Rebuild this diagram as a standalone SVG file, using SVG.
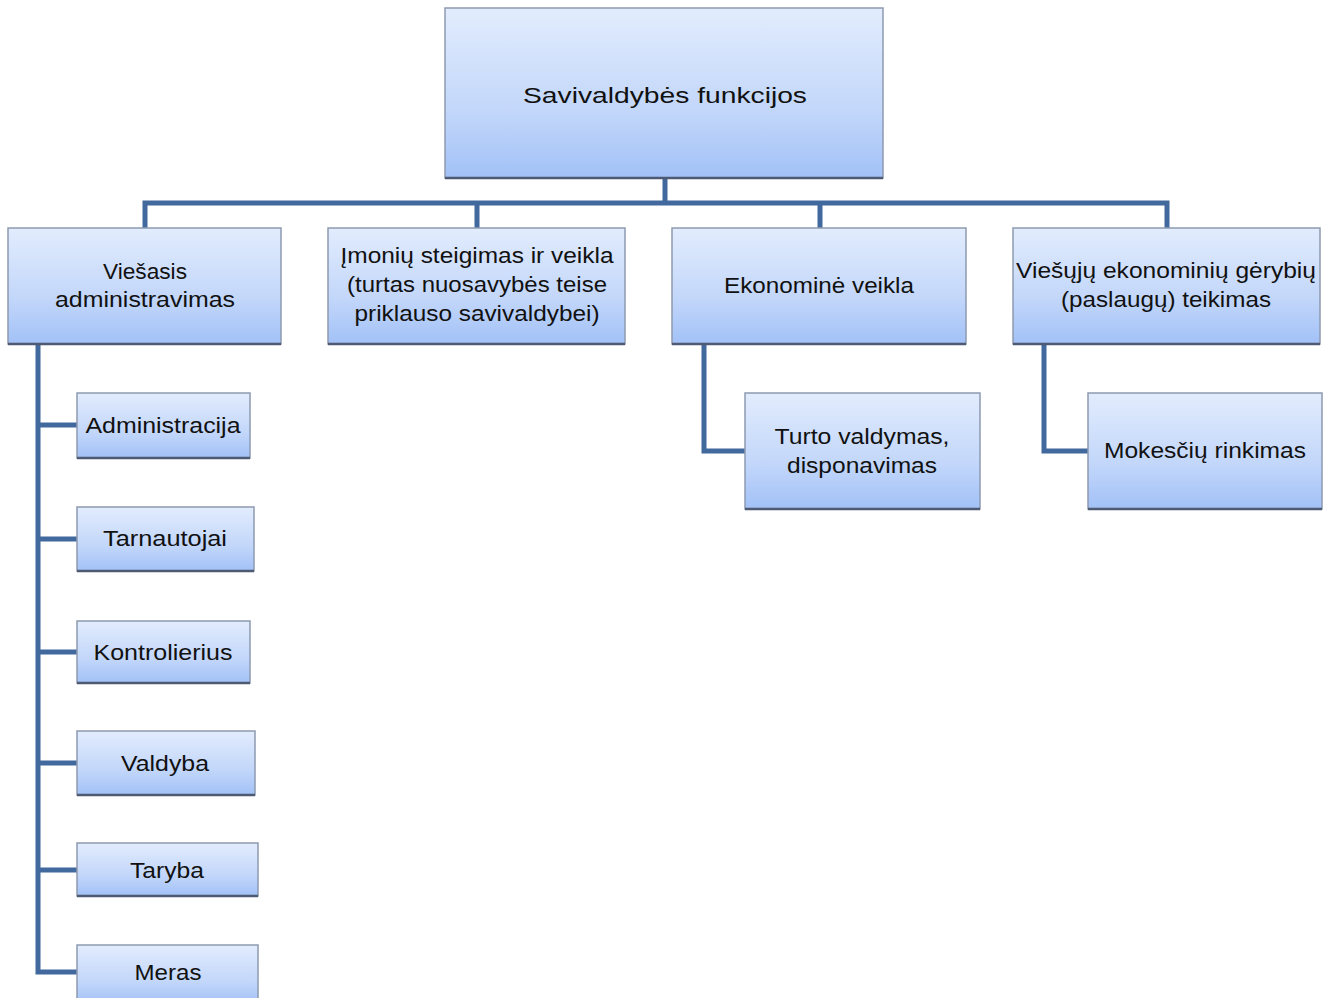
<svg xmlns="http://www.w3.org/2000/svg" width="1334" height="998" viewBox="0 0 1334 998">
<defs>
<linearGradient id="g" x1="0" y1="0" x2="0" y2="1">
<stop offset="0" stop-color="#e2ecfd"/>
<stop offset="0.6" stop-color="#c3d7fa"/>
<stop offset="1" stop-color="#a2c1f7"/>
</linearGradient>
</defs>
<style>
.box{fill:url(#g);stroke:#8d9ab0;stroke-width:1.5}
.sh{stroke:#4d5a72;stroke-width:2.5}
.t{font-family:"Liberation Sans",Arial,sans-serif;font-size:22px;fill:#111;text-anchor:middle}
.c{fill:none;stroke:#41699d;stroke-width:5;stroke-linejoin:miter}
</style>
<rect width="1334" height="998" fill="#fff"/>
<g id="connectors">
<path class="c" d="M665 178V203M145 228V203H1167V228M477 203V228M820 203V228"/>
<path class="c" d="M38 344V972H77M38 425H77M38 539H77M38 652H77M38 763H77M38 870H77"/>
<path class="c" d="M704 344V451H745"/>
<path class="c" d="M1044 344V451H1088"/>
</g>
<g id="root">
<rect class="box" x="445" y="8" width="438" height="170"/>
<line class="sh" x1="445" y1="178" x2="883" y2="178"/>
<text class="t" x="665" y="103" font-size="28" textLength="284" lengthAdjust="spacingAndGlyphs">Savivaldybės funkcijos</text>
</g>
<g id="n1">
<rect class="box" x="8" y="228" width="273" height="116"/>
<line class="sh" x1="8" y1="344" x2="281" y2="344"/>
<text class="t" x="145" y="279" textLength="84" lengthAdjust="spacingAndGlyphs">Viešasis</text>
<text class="t" x="145" y="307" textLength="180" lengthAdjust="spacingAndGlyphs">administravimas</text>
</g>
<g id="n2">
<rect class="box" x="328" y="228" width="297" height="116"/>
<line class="sh" x1="328" y1="344" x2="625" y2="344"/>
<text class="t" x="477" y="263" textLength="273" lengthAdjust="spacingAndGlyphs">Įmonių steigimas ir veikla</text>
<text class="t" x="477" y="292" textLength="260" lengthAdjust="spacingAndGlyphs">(turtas nuosavybės teise</text>
<text class="t" x="477" y="321" textLength="245" lengthAdjust="spacingAndGlyphs">priklauso savivaldybei)</text>
</g>
<g id="n3">
<rect class="box" x="672" y="228" width="294" height="116"/>
<line class="sh" x1="672" y1="344" x2="966" y2="344"/>
<text class="t" x="819" y="293" textLength="190" lengthAdjust="spacingAndGlyphs">Ekonominė veikla</text>
</g>
<g id="n4">
<rect class="box" x="1013" y="228" width="307" height="116"/>
<line class="sh" x1="1013" y1="344" x2="1320" y2="344"/>
<text class="t" x="1166" y="278" textLength="300" lengthAdjust="spacingAndGlyphs">Viešųjų ekonominių gėrybių</text>
<text class="t" x="1166" y="307" textLength="210" lengthAdjust="spacingAndGlyphs">(paslaugų) teikimas</text>
</g>
<g id="n1a">
<rect class="box" x="77" y="393" width="173" height="65"/>
<line class="sh" x1="77" y1="458" x2="250" y2="458"/>
<text class="t" x="163" y="433" textLength="155" lengthAdjust="spacingAndGlyphs">Administracija</text>
</g>
<g id="n1b">
<rect class="box" x="77" y="507" width="177" height="64"/>
<line class="sh" x1="77" y1="571" x2="254" y2="571"/>
<text class="t" x="165" y="546" textLength="124" lengthAdjust="spacingAndGlyphs">Tarnautojai</text>
</g>
<g id="n1c">
<rect class="box" x="77" y="621" width="173" height="62"/>
<line class="sh" x1="77" y1="683" x2="250" y2="683"/>
<text class="t" x="163" y="660" textLength="139" lengthAdjust="spacingAndGlyphs">Kontrolierius</text>
</g>
<g id="n1d">
<rect class="box" x="77" y="731" width="178" height="64"/>
<line class="sh" x1="77" y1="795" x2="255" y2="795"/>
<text class="t" x="165" y="771" textLength="88" lengthAdjust="spacingAndGlyphs">Valdyba</text>
</g>
<g id="n1e">
<rect class="box" x="77" y="843" width="181" height="53"/>
<line class="sh" x1="77" y1="896" x2="258" y2="896"/>
<text class="t" x="167" y="878" textLength="74" lengthAdjust="spacingAndGlyphs">Taryba</text>
</g>
<g id="n1f">
<rect class="box" x="77" y="945" width="181" height="60"/>
<text class="t" x="168" y="980" textLength="67" lengthAdjust="spacingAndGlyphs">Meras</text>
</g>
<g id="n3a">
<rect class="box" x="745" y="393" width="235" height="116"/>
<line class="sh" x1="745" y1="509" x2="980" y2="509"/>
<text class="t" x="862" y="444" textLength="175" lengthAdjust="spacingAndGlyphs">Turto valdymas,</text>
<text class="t" x="862" y="473" textLength="150" lengthAdjust="spacingAndGlyphs">disponavimas</text>
</g>
<g id="n4a">
<rect class="box" x="1088" y="393" width="234" height="116"/>
<line class="sh" x1="1088" y1="509" x2="1322" y2="509"/>
<text class="t" x="1205" y="458" textLength="202" lengthAdjust="spacingAndGlyphs">Mokesčių rinkimas</text>
</g>
</svg>
